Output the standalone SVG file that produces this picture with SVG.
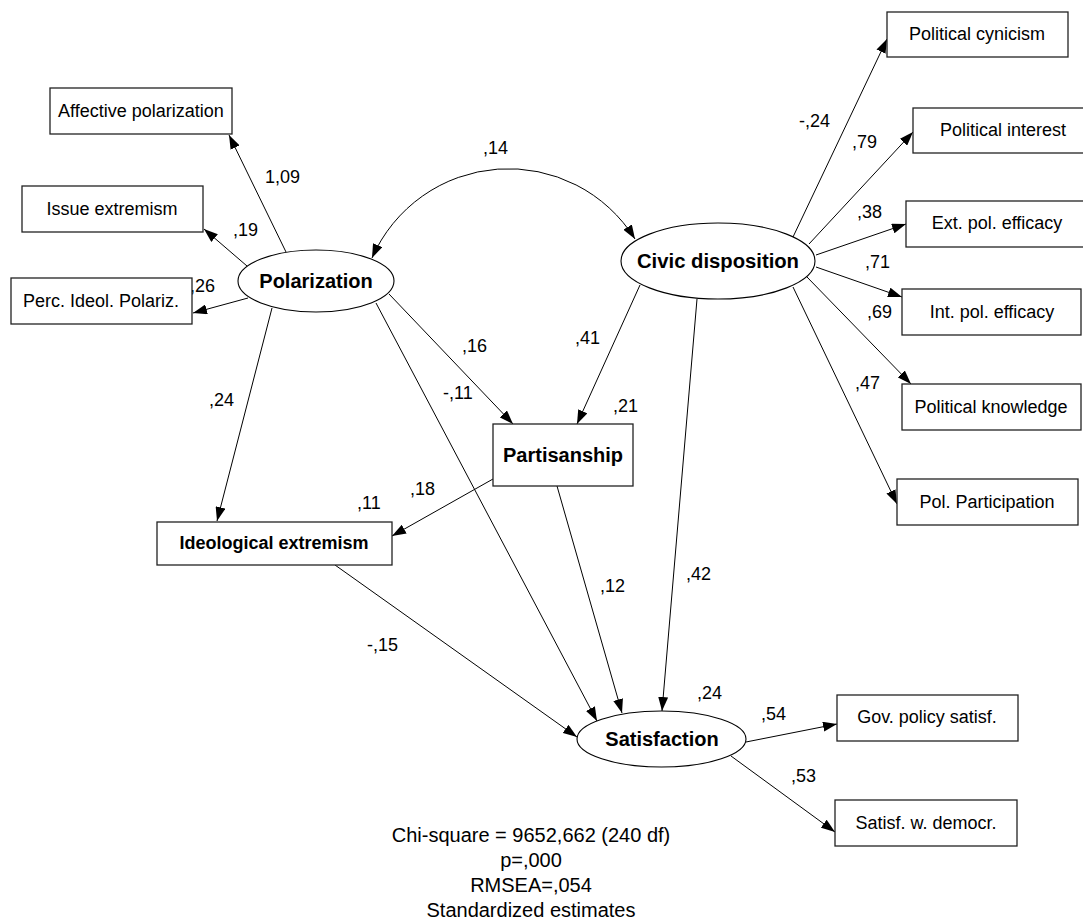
<svg xmlns="http://www.w3.org/2000/svg" width="1083" height="922" viewBox="0 0 1083 922">
  <style>
    .box { fill: #fff; stroke: #222; stroke-width: 1.3; }
    .lat { fill: #fff; stroke: #000; stroke-width: 1.1; }
    .lbl { font-family: "Liberation Sans", Arial, sans-serif; font-size: 18px; fill: #000; text-anchor: middle; }
    .blbl { font-family: "Liberation Sans", Arial, sans-serif; font-size: 20px; font-weight: bold; fill: #000; text-anchor: middle; }
    .coef { font-family: "Liberation Sans", Arial, sans-serif; font-size: 18px; fill: #000; }
    .stat { font-family: "Liberation Sans", Arial, sans-serif; font-size: 20px; fill: #000; text-anchor: middle; }
    .edge { fill: none; stroke: #000; stroke-width: 1; marker-end: url(#arrow); }
  </style>
  <defs>
    <marker id="arrow" viewBox="0 0 14 10" refX="14" refY="5" markerWidth="14" markerHeight="10" markerUnits="userSpaceOnUse" orient="auto-start-reverse">
      <path d="M0,0 L14,5 L0,10 z" fill="#000"/>
    </marker>
  </defs>

  <!-- connectors -->
  <g id="connectors">
    <!-- covariance between latent factors -->
    <path class="edge" marker-start="url(#arrow)" d="M372,258 A149,149 0 0 1 635,239"/>
    <!-- Polarization indicators -->
    <line class="edge" x1="286" y1="252" x2="229" y2="135"/>
    <line class="edge" x1="247" y1="266" x2="204" y2="229"/>
    <line class="edge" x1="248" y1="298" x2="193" y2="313"/>
    <!-- structural paths -->
    <line class="edge" x1="272" y1="308" x2="217" y2="521"/>
    <line class="edge" x1="376" y1="303" x2="597" y2="721"/>
    <line class="edge" x1="389" y1="294" x2="513" y2="424"/>
    <line class="edge" x1="640" y1="285" x2="577" y2="424"/>
    <line class="edge" x1="697" y1="299" x2="662" y2="711"/>
    <line class="edge" x1="493" y1="479" x2="392" y2="536"/>
    <line class="edge" x1="557" y1="486" x2="622" y2="713"/>
    <line class="edge" x1="335" y1="565" x2="577" y2="737"/>
    <!-- Civic disposition indicators -->
    <line class="edge" x1="793" y1="237" x2="887" y2="39"/>
    <line class="edge" x1="809" y1="244" x2="913" y2="132"/>
    <line class="edge" x1="816" y1="255" x2="906" y2="224"/>
    <line class="edge" x1="816" y1="267" x2="902" y2="297"/>
    <line class="edge" x1="807" y1="277" x2="911" y2="384"/>
    <line class="edge" x1="793" y1="287" x2="897" y2="504"/>
    <!-- Satisfaction indicators -->
    <line class="edge" x1="746" y1="742" x2="837" y2="724"/>
    <line class="edge" x1="731" y1="756" x2="835" y2="832"/>
  </g>

  <!-- path coefficients -->
  <g id="coefficients" class="coef">
    <text x="265" y="183">1,09</text>
    <text x="233" y="236">,19</text>
    <text x="190" y="292">,26</text>
    <text x="483" y="154">,14</text>
    <text x="799" y="127">-,24</text>
    <text x="852" y="148">,79</text>
    <text x="857" y="218">,38</text>
    <text x="865" y="268">,71</text>
    <text x="867" y="318">,69</text>
    <text x="855" y="389">,47</text>
    <text x="575" y="344">,41</text>
    <text x="462" y="352">,16</text>
    <text x="443" y="399">-,11</text>
    <text x="209" y="406">,24</text>
    <text x="613" y="412">,21</text>
    <text x="410" y="495">,18</text>
    <text x="357" y="509">,11</text>
    <text x="600" y="592">,12</text>
    <text x="686" y="580">,42</text>
    <text x="367" y="651">-,15</text>
    <text x="697" y="699">,24</text>
    <text x="761" y="720">,54</text>
    <text x="791" y="782">,53</text>
  </g>

  <!-- Polarization factor -->
  <g id="polarization">
    <ellipse class="lat" cx="316" cy="281" rx="78" ry="31"/>
    <text class="blbl" x="316" y="288">Polarization</text>
  </g>
  <g id="affective-polarization">
    <rect class="box" x="50" y="88" width="182" height="46"/>
    <text class="lbl" x="141" y="117">Affective polarization</text>
  </g>
  <g id="issue-extremism">
    <rect class="box" x="22" y="186" width="181" height="46"/>
    <text class="lbl" x="112" y="215">Issue extremism</text>
  </g>
  <g id="perc-ideol-polariz">
    <rect class="box" x="11" y="278" width="181" height="46"/>
    <text class="lbl" x="101" y="307">Perc. Ideol. Polariz.</text>
  </g>

  <!-- Civic disposition factor -->
  <g id="civic-disposition">
    <ellipse class="lat" cx="718" cy="261" rx="97" ry="38"/>
    <text class="blbl" x="718" y="268" textLength="162" lengthAdjust="spacingAndGlyphs">Civic disposition</text>
  </g>
  <g id="political-cynicism">
    <rect class="box" x="887" y="12" width="181" height="45"/>
    <text class="lbl" x="977" y="40">Political cynicism</text>
  </g>
  <g id="political-interest">
    <rect class="box" x="913" y="108" width="180" height="45"/>
    <text class="lbl" x="1003" y="136">Political interest</text>
  </g>
  <g id="ext-pol-efficacy">
    <rect class="box" x="906" y="201" width="187" height="46"/>
    <text class="lbl" x="997" y="229">Ext. pol. efficacy</text>
  </g>
  <g id="int-pol-efficacy">
    <rect class="box" x="902" y="289" width="179" height="46"/>
    <text class="lbl" x="992" y="318">Int. pol. efficacy</text>
  </g>
  <g id="political-knowledge">
    <rect class="box" x="902" y="384" width="179" height="46"/>
    <text class="lbl" x="991" y="413">Political knowledge</text>
  </g>
  <g id="pol-participation">
    <rect class="box" x="897" y="479" width="181" height="46"/>
    <text class="lbl" x="987" y="508">Pol. Participation</text>
  </g>

  <!-- mediators -->
  <g id="partisanship">
    <rect class="box" x="493" y="424" width="140" height="62"/>
    <text class="blbl" x="563" y="462">Partisanship</text>
  </g>
  <g id="ideological-extremism">
    <rect class="box" x="157" y="522" width="235" height="43"/>
    <text class="blbl" x="274" y="549" style="font-size:18px">Ideological extremism</text>
  </g>

  <!-- Satisfaction factor -->
  <g id="satisfaction">
    <ellipse class="lat" cx="661.5" cy="739" rx="84.5" ry="28"/>
    <text class="blbl" x="662" y="746">Satisfaction</text>
  </g>
  <g id="gov-policy-satisf">
    <rect class="box" x="837" y="695" width="181" height="46"/>
    <text class="lbl" x="927" y="723">Gov. policy satisf.</text>
  </g>
  <g id="satisf-w-democr">
    <rect class="box" x="835" y="800" width="182" height="46"/>
    <text class="lbl" x="926" y="829">Satisf. w. democr.</text>
  </g>

  <!-- fit statistics -->
  <g id="fit-stats" class="stat">
    <text x="531" y="842">Chi-square = 9652,662 (240 df)</text>
    <text x="531" y="867">p=,000</text>
    <text x="531" y="892">RMSEA=,054</text>
    <text x="531" y="917">Standardized estimates</text>
  </g>
</svg>
